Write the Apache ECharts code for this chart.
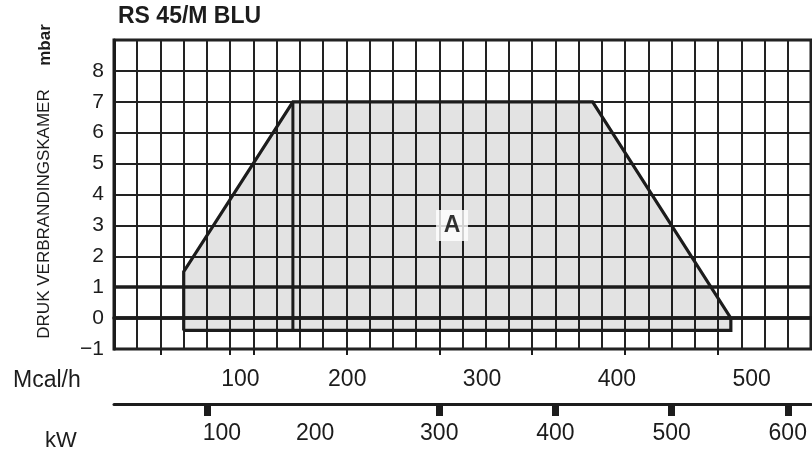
<!DOCTYPE html>
<html>
<head>
<meta charset="utf-8">
<script src="https://cdn.jsdelivr.net/npm/echarts@6/dist/echarts.min.js"></script>
<style>
  html, body { margin: 0; padding: 0; background: #fff; }
  #main { width: 812px; height: 459px; }
</style>
</head>
<body>
<div id="main"></div>
<script>
// working envelope (kW on x, mbar in the combustion chamber on y)
const envelopeKw = [80, 80, 174, 432, 551, 551];
const envelopeMbar = [-0.4, 1.5, 7, 7, 0, -0.4];
// the extra vertical edge inside the area
const dividerKw = [174, 174];
const dividerMbar = [7, -0.4];

const areaLabel = { name: 'A', kw: 311, mbar: 3 };

const mcalLabels = [100, 200, 300, 400, 500];
const kwLabels = [100, 200, 300, 400, 500, 600];
const kwTicks = [100, 300, 400, 500, 600];
const minorTicks = [60, 120, 140, 220, 300, 380, 460, 540];

const ink = '#1c1c1c';
const numFont = '"Liberation Sans", Arial, sans-serif';

let chartDom = document.getElementById('main');
let myChart = echarts.init(chartDom, null, { renderer: 'canvas' });

let outline = envelopeKw.map((x, i) => [x, envelopeMbar[i]]);
outline.push(outline[0]);
let divider = dividerKw.map((x, i) => [x, dividerMbar[i]]);

let option = {
    animation: false,
    backgroundColor: '#fff',
    grid: [
        { left: 114, top: 40, width: 697, height: 309, show: true, borderWidth: 3, borderColor: ink },
        { left: 114, top: 403, width: 697, height: 1 },
        // same box as the plot, only carries the small ticks under the bottom edge
        { left: 114, top: 40, width: 697, height: 309 }
    ],
    xAxis: [
        {
            gridIndex: 0, type: 'value', min: 20, max: 620, interval: 20,
            axisLine: { show: true, lineStyle: { color: ink, width: 3.5 } },
            axisTick: { show: false },
            axisLabel: { show: false },
            splitLine: { show: true, lineStyle: { color: '#222', width: 2 } }
        },
        {
            // Mcal/h scale
            gridIndex: 1, type: 'value', position: 'top', min: 27, max: 544,
            axisLine: { show: false },
            axisTick: { show: false },
            splitLine: { show: false },
            axisLabel: {
                customValues: mcalLabels, margin: 12, color: ink,
                fontFamily: numFont, fontSize: 23,
                formatter: (v) => v === 100 ? '{s|100}' : String(v),
                rich: { s: { padding: [0, 0, 0, 56], fontFamily: numFont, fontSize: 23, color: ink } }
            }
        },
        {
            // kW scale
            gridIndex: 1, type: 'value', position: 'bottom', min: 20, max: 620,
            axisLine: { show: true, lineStyle: { color: ink, width: 3 } },
            axisTick: { show: true, customValues: kwTicks, length: 12, lineStyle: { color: ink, width: 7 } },
            splitLine: { show: false },
            axisLabel: {
                customValues: kwLabels, margin: 18, color: ink,
                fontFamily: numFont, fontSize: 23,
                formatter: (v) => v === 100 ? '{r|100}' : (v === 200 ? '{l|200}' : String(v)),
                rich: {
                    r: { padding: [0, 0, 0, 30], fontFamily: numFont, fontSize: 23, color: ink },
                    l: { padding: [0, 16, 0, 0], fontFamily: numFont, fontSize: 23, color: ink }
                }
            }
        },
        {
            gridIndex: 2, type: 'value', position: 'bottom', min: 20, max: 620,
            axisLine: { show: false },
            axisTick: { show: true, customValues: minorTicks, length: 6, lineStyle: { color: ink, width: 2 } },
            axisLabel: { show: false },
            splitLine: { show: false }
        }
    ],
    yAxis: [
        {
            gridIndex: 0, type: 'value', min: -1, max: 9, interval: 1,
            axisLine: { show: true, lineStyle: { color: ink, width: 3 } },
            axisTick: { show: false },
            axisLabel: {
                margin: 10, color: ink, fontFamily: numFont, fontSize: 21,
                formatter: (v) => v === 9 ? '' : (v < 0 ? '\u2212' + (-v) : String(v))
            },
            splitLine: { show: true, lineStyle: { color: '#222', width: 2 } }
        },
        { gridIndex: 1, type: 'value', min: 0, max: 1, show: false },
        { gridIndex: 2, type: 'value', min: 0, max: 1, show: false }
    ],
    graphic: [
        {
            type: 'text', left: 118, top: 5,
            style: { text: 'RS 45/M BLU', fill: ink, font: 'bold 23px "Liberation Sans", Arial, sans-serif' }
        },
        {
            type: 'text', x: 45, y: 45, rotation: Math.PI / 2,
            style: { text: 'mbar', fill: ink, align: 'center', verticalAlign: 'middle',
                font: 'bold 17px "Liberation Sans", Arial, sans-serif' }
        },
        {
            type: 'text', x: 44, y: 214, rotation: Math.PI / 2,
            style: { text: 'DRUK VERBRANDINGSKAMER', fill: ink, align: 'center', verticalAlign: 'middle',
                font: '17px "Liberation Sans Narrow", "Liberation Sans", Arial, sans-serif' }
        },
        {
            type: 'text', left: 13, top: 369,
            style: { text: 'Mcal/h', fill: ink, font: '23px "Liberation Sans", Arial, sans-serif' }
        },
        {
            type: 'text', left: 45, top: 430,
            style: { text: 'kW', fill: ink, font: '22px "Liberation Sans", Arial, sans-serif' }
        }
    ],
    series: [
        {
            type: 'custom',
            xAxisIndex: 0, yAxisIndex: 0,
            data: [0],
            renderItem: (params, api) => {
                let pts = envelopeKw.map((x, i) => api.coord([x, envelopeMbar[i]]));
                return {
                    type: 'polygon',
                    shape: { points: pts },
                    style: { fill: 'rgba(0,0,0,0.11)', stroke: null }
                };
            },
            silent: true
        },
        {
            type: 'line',
            xAxisIndex: 0, yAxisIndex: 0,
            data: divider,
            symbol: 'none',
            lineStyle: { color: ink, width: 3 },
            silent: true,
            markLine: {
                silent: true,
                symbol: 'none',
                label: { show: false },
                lineStyle: { color: ink, width: 3.5, type: 'solid' },
                data: [{ yAxis: 0 }, { yAxis: 1 }]
            }
        },
        {
            type: 'line',
            xAxisIndex: 0, yAxisIndex: 0,
            data: outline,
            symbol: 'none',
            lineStyle: { color: ink, width: 3.2, join: 'miter' },
            silent: true
        },
        {
            type: 'scatter',
            xAxisIndex: 0, yAxisIndex: 0,
            data: [[areaLabel.kw, areaLabel.mbar]],
            symbolSize: 0,
            z: 10,
            label: {
                show: true, position: 'inside', formatter: areaLabel.name,
                backgroundColor: '#fff', width: 32, height: 31, lineHeight: 31, align: 'center',
                color: '#000', fontWeight: 'bold', fontSize: 23, fontFamily: numFont
            },
            silent: true
        }
    ]
};

myChart.setOption(option);
window.addEventListener('resize', () => {
    myChart.resize();
});
</script>
</body>
</html>
